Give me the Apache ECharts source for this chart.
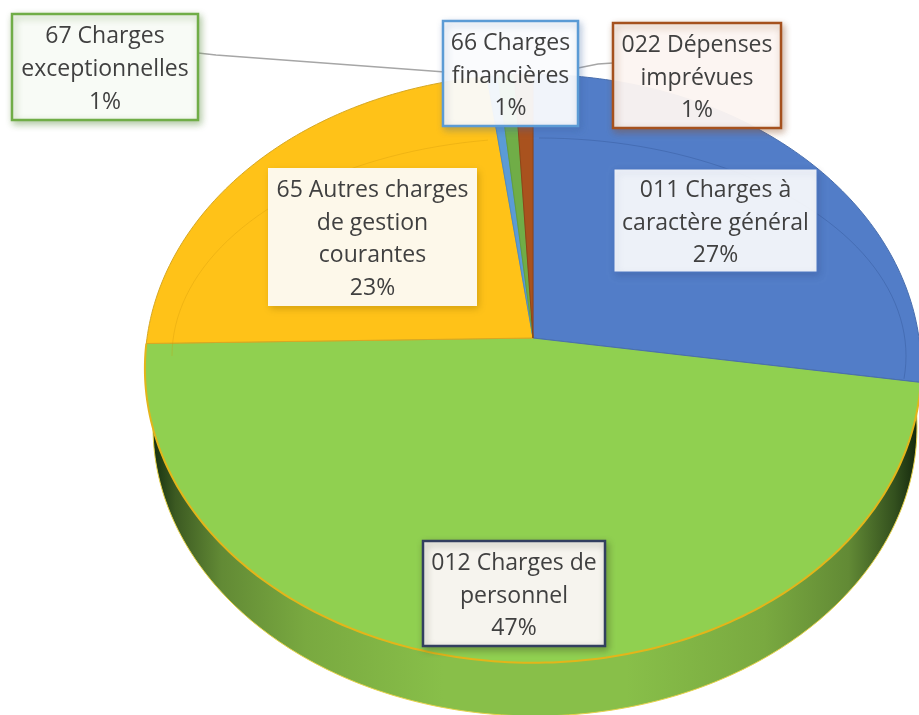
<!DOCTYPE html>
<html><head><meta charset="utf-8">
<style>html,body{margin:0;padding:0;background:#fff}#c{width:919px;height:715px}</style>
<script src="https://cdn.jsdelivr.net/npm/echarts@6/dist/echarts.min.js"></script>
</head><body><div id="c"></div>
<script>
// Data
const categories = ['011 Charges à caractère général','012 Charges de personnel','65 Autres charges de gestion courantes','66 Charges financières','67 Charges exceptionnelles','022 Dépenses imprévues'];
const values = [27.4, 47.3, 23.2, 0.5, 0.75, 0.85];
const percentLabels = ['27%','47%','23%','1%','1%','1%'];
const labelLines = [['011 Charges à','caractère général'],['012 Charges de','personnel'],['65 Autres charges','de gestion','courantes'],['66 Charges','financières'],['67 Charges','exceptionnelles'],['022 Dépenses','imprévues']];

// Styles / layout
const sliceColors = ['#527dc8','#90d050','#ffc218','#5b9bd5','#70ad47','#a9521e'];
const sliceStrokes = ['#4a6fae','#e3b51a','#d6a824','#4f8cc4','#64a03e','#8f4518'];
const boxes = [
 {x:614,y:169,w:203,h:103,fill:'rgba(255,255,255,0.9)',border:'#4f79c4',bw:1,shadow:'rgba(40,60,110,0.25)'},
 {x:423,y:541,w:182,h:105,fill:'#f6f4ee',border:'#323f5f',bw:2.5,shadow:'rgba(60,70,40,0.4)'},
 {x:268,y:168,w:209,h:138,fill:'#fdf8ea',border:'#fdf8ea',bw:0,shadow:'rgba(120,90,0,0.3)'},
 {x:443,y:21,w:135,h:105,fill:'rgba(255,255,255,0.92)',border:'#5b9bd5',bw:2.5,shadow:'rgba(60,100,160,0.35)'},
 {x:12,y:14,w:186,h:106,fill:'#f8fbf6',border:'#70ad47',bw:2.5,shadow:'rgba(90,140,60,0.45)'},
 {x:613,y:23,w:168,h:105,fill:'rgba(255,250,247,0.93)',border:'#a5511e',bw:2.5,shadow:'rgba(140,80,40,0.45)'}
];
const leaders = [
 [[198,53],[216,55],[445,72]],
 [[578,68],[598,64],[613,63]]
];
const G = {cx:533, cy:338, A:291, B:386, k:0.104};
const WALL = {cx:535, cy:427, rx:382, ry:289};
const RIM = {cx:539, cy:356, rx:367, ry:218};

function pt(deg){
  const t = deg*Math.PI/180, v = Math.cos(t), u = Math.sin(t), w = 1+G.k*v;
  return [G.cx+G.B*u/w, G.cy-G.A*v/w];
}
function rimPts(a,b){
  const r=[]; for(let d=a;d<=b;d+=2){const t=d*Math.PI/180; r.push([RIM.cx+RIM.rx*Math.sin(t),RIM.cy-RIM.ry*Math.cos(t)]);}
  return r;
}
const total = values.reduce((a,b)=>a+b,0);
function renderSlice(params, api){
  const i = params.dataIndex;
  let start = 0;
  for(let j=0;j<i;j++) start += values[j];
  const a0 = start/total*360, a1 = (start+api.value(1))/total*360;
  const arc = [];
  const n = Math.max(2,Math.ceil((a1-a0)));
  for(let s=0;s<=n;s++) arc.push(pt(a0+(a1-a0)*s/n));
  const pts = [[G.cx,G.cy]].concat(arc);
  const children = [];
  if(i===1){
    children.push({type:'polygon',shape:{points:pts},style:{fill:sliceColors[i]}});
    children.push({type:'polyline',shape:{points:arc},style:{fill:'none',stroke:sliceStrokes[1],lineWidth:2}});
    children.push({type:'polyline',shape:{points:[arc[0],[G.cx,G.cy]]},style:{fill:'none',stroke:sliceStrokes[0],lineWidth:1}});
    children.push({type:'polyline',shape:{points:[arc[arc.length-1],[G.cx,G.cy]]},style:{fill:'none',stroke:sliceStrokes[2],lineWidth:1}});
  } else {
    children.push({type:'polygon',shape:{points:pts},style:{fill:sliceColors[i],stroke:sliceStrokes[i],lineWidth:1}});
  }
  if(i===0) children.push({type:'polyline',shape:{points:rimPts(0,96)},style:{fill:'none',stroke:'rgba(50,85,150,0.4)',lineWidth:1}});
  if(i===2) children.push({type:'polyline',shape:{points:rimPts(270,352)},style:{fill:'none',stroke:'rgba(205,150,10,0.3)',lineWidth:1}});
  return {type:'group',children};
}
function renderWall(){
  const pts=[]; for(let d=0;d<360;d+=1){const t=d*Math.PI/180; pts.push([WALL.cx+WALL.rx*Math.cos(t),WALL.cy+WALL.ry*Math.sin(t)]);}
  return {type:'polygon',shape:{points:pts},style:{
    stroke:'#e6d24a',lineWidth:1,
    fill:new echarts.graphic.LinearGradient(0,0,1,0,[
      {offset:0,color:'#16300f'},{offset:0.03,color:'#3c5a22'},{offset:0.09,color:'#628a35'},
      {offset:0.2,color:'#79a940'},{offset:0.38,color:'#88bf49'},{offset:0.62,color:'#88bf49'},
      {offset:0.8,color:'#79a940'},{offset:0.91,color:'#628a35'},{offset:0.97,color:'#33501e'},{offset:1,color:'#14280d'}])
  }};
}

const graphics = [];
leaders.forEach(l=>graphics.push({type:'polyline',z:5,shape:{points:l},style:{fill:'none',stroke:'#a6a6a6',lineWidth:1.4}}));
boxes.forEach((b,i)=>{
  graphics.push({type:'rect',z:6,shape:{x:b.x,y:b.y,width:b.w,height:b.h},
    style:{fill:b.fill,stroke:b.bw?b.border:null,lineWidth:b.bw,shadowColor:b.shadow,shadowBlur:7,shadowOffsetX:2,shadowOffsetY:3}});
  const lines = labelLines[i].concat(percentLabels[i]);
  const lh = 32.7, top = b.y+b.h/2-lh*lines.length/2+2.5;
  lines.forEach((t,j)=>graphics.push({type:'text',z:7,x:b.x+b.w/2,y:top+lh*j+lh/2,
    style:{text:t,fill:'#404040',font:'23px "Open Sans"',align:'center',verticalAlign:'middle'}}));
});

const chart = echarts.init(document.getElementById('c'),null,{renderer:'canvas'});
chart.setOption({
  animation:false,
  backgroundColor:'#fff',
  series:[
    {type:'custom',coordinateSystem:'none',silent:true,z:1,renderItem:renderWall,data:[[0]]},
    {type:'custom',coordinateSystem:'none',silent:true,z:2,renderItem:renderSlice,
     encode:{itemName:0,value:1},
     data:categories.map((c,i)=>[c,values[i]])}
  ],
  graphic:{elements:graphics}
});
</script></body></html>
